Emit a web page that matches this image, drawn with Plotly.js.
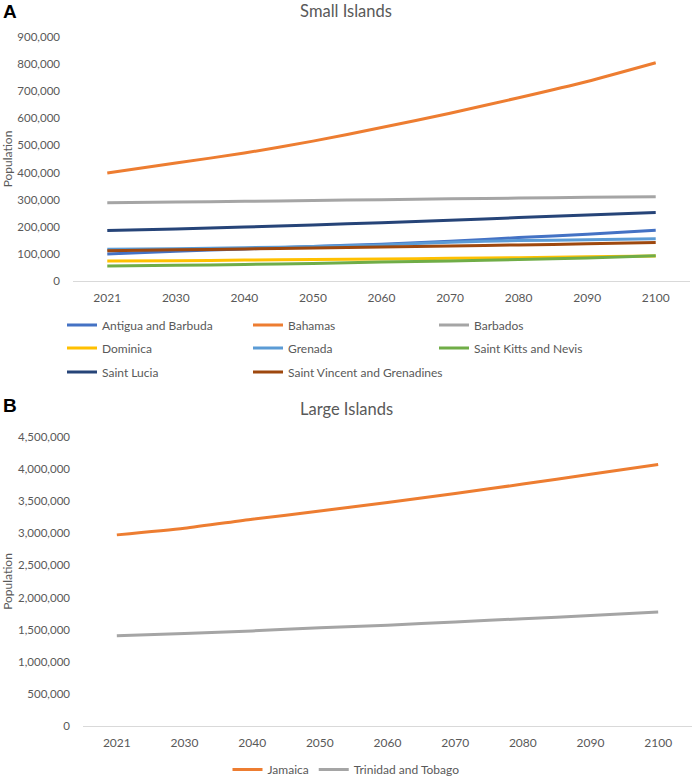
<!DOCTYPE html>
<html>
<head>
<meta charset="utf-8">
<script src="https://cdn.plot.ly/plotly-3.0.1.min.js"></script>
<style>html,body{margin:0;padding:0;background:#fff;}#chart{width:692px;height:778px;}</style>
</head>
<body>
<div id="chart"></div>
<script>
// ---- data ----
var years = ['2021','2030','2040','2050','2060','2070','2080','2090','2100'];

var smallNames = ['Antigua and Barbuda','Bahamas','Barbados','Dominica','Grenada','Saint Kitts and Nevis','Saint Lucia','Saint Vincent and Grenadines'];
var antigua   = [100000,110000,118000,127000,136000,147000,160000,172000,187000];
var bahamas   = [398000,435000,472000,516000,566000,619000,676000,736000,805000];
var barbados  = [289000,291000,294000,297000,300000,303000,306000,309000,311000];
var dominica  = [74000,75000,77000,79000,81000,84000,86000,89000,92000];
var grenada   = [117000,119000,123000,127000,133000,143000,149000,152000,156000];
var stKitts   = [55000,58000,61000,65000,70000,74000,79000,85000,93000];
var stLucia   = [186000,192000,199000,207000,215000,224000,234000,243000,253000];
var stVincent = [112000,115000,118000,122000,125000,129000,133000,137000,142000];

var largeNames = ['Jamaica','Trinidad and Tobago'];
var jamaica  = [2976000,3080000,3220000,3346000,3480000,3620000,3767000,3920000,4073000];
var trinidad = [1405000,1440000,1480000,1530000,1570000,1620000,1670000,1720000,1775000];

var smallTickVals = [0,100000,200000,300000,400000,500000,600000,700000,800000,900000];
var largeTickVals = [0,500000,1000000,1500000,2000000,2500000,3000000,3500000,4000000,4500000];

// ---- styles ----
var smallColors = ['#4472C4','#ED7D31','#A5A5A5','#FFC000','#5B9BD5','#70AD47','#264478','#9E480E'];
var smallLegendId = ['legend','legend','legend','legend2','legend2','legend2','legend3','legend5'];
var largeColors = ['#ED7D31','#A5A5A5'];
var smallSeries = [antigua,bahamas,barbados,dominica,grenada,stKitts,stLucia,stVincent];
var largeSeries = [jamaica,trinidad];

var FONT = 'Lato, "Open Sans", sans-serif';
var GREY = '#595959';
var W = 692, H = 778;
var LEG4_TOP = 755;             // top edge (px) of the bottom legend box
var PH = LEG4_TOP;              // plot-area height left after the bottom legend reserves its margin
function py(y){ return (PH - y) / PH; }

var traces = [];
smallSeries.forEach(function(vals,i){
  traces.push({
    type:'scatter', mode:'lines', x:years, y:vals, name:smallNames[i],
    line:{color:smallColors[i], width:3, shape:'spline', smoothing:0.6},
    xaxis:'x', yaxis:'y', legend:smallLegendId[i], hoverinfo:'skip'
  });
});
largeSeries.forEach(function(vals,i){
  traces.push({
    type:'scatter', mode:'lines', x:years, y:vals, name:largeNames[i],
    line:{color:largeColors[i], width:3, shape:'spline', smoothing:0.6},
    xaxis:'x2', yaxis:'y2', legend:'legend4', hoverinfo:'skip'
  });
});

function legendRow(xPix, yPix, ew){
  var o = {orientation:'h', x:xPix/W, xanchor:'left', y:py(yPix), yanchor:'middle',
    font:{family:FONT,size:12,color:GREY}, bgcolor:'rgba(0,0,0,0)', traceorder:'normal', itemwidth:30};
  if(ew){ o.entrywidth = ew; o.entrywidthmode = 'pixels'; }
  return o;
}

var xCommon = {type:'category', showgrid:false, zeroline:false, showline:true,
  linecolor:'#D9D9D9', linewidth:1, ticks:'', tickfont:{family:FONT,size:12,color:GREY},
  ticklabelstandoff:6, fixedrange:true};
var yCommon = {showgrid:false, zeroline:false, showline:false, ticks:'',
  tickformat:',d', tickfont:{family:FONT,size:11.5,color:GREY}, ticklabelstandoff:12,
  fixedrange:true};

var layout = {
  width:W, height:H, margin:{l:0,r:0,t:0,b:0,pad:0}, paper_bgcolor:'#fff', plot_bgcolor:'#fff',
  showlegend:true,
  title:{text:'Small Islands', font:{family:FONT,size:16.5,color:GREY}, x:0.5, xanchor:'center', xref:'paper', y:(H-11)/H, yanchor:'middle', yref:'container'},
  xaxis:Object.assign({}, xCommon, {domain:[73/W, 690/W], anchor:'y', range:[-0.5,8.5]}),
  yaxis:Object.assign({}, yCommon, {domain:[py(281), py(37)], anchor:'x', range:[0,900000], tickvals:smallTickVals,
     title:{text:'Population', font:{family:FONT,size:12,color:GREY}, standoff:6}}),
  xaxis2:Object.assign({}, xCommon, {domain:[83/W, 692/W], anchor:'y2', range:[-0.5,8.5]}),
  yaxis2:Object.assign({}, yCommon, {domain:[py(726), py(437)], anchor:'x2', range:[0,4500000], tickvals:largeTickVals,
     title:{text:'Population', font:{family:FONT,size:12,color:GREY}, standoff:6}}),
  legend:legendRow(62, 325, 141),
  legend2:legendRow(62, 348, 141),
  legend3:legendRow(62, 372),
  legend5:legendRow(248, 372),
  legend4:{orientation:'h', xref:'paper', yref:'container', x:0.5, xanchor:'center',
    y:(H-LEG4_TOP)/H, yanchor:'top',
    font:{family:FONT,size:12,color:GREY}, bgcolor:'rgba(0,0,0,0)', traceorder:'normal', itemwidth:30},
  annotations:[
    {text:'<b>A</b>', xref:'paper', yref:'paper', x:1/W, y:py(12), xanchor:'left', yanchor:'middle', showarrow:false,
     font:{family:'"Liberation Sans", Arial, sans-serif', size:19, color:'#000'}},
    {text:'<b>B</b>', xref:'paper', yref:'paper', x:1/W, y:py(405), xanchor:'left', yanchor:'middle', showarrow:false,
     font:{family:'"Liberation Sans", Arial, sans-serif', size:19, color:'#000'}},
    {text:'Large Islands', xref:'paper', yref:'paper', x:0.5, y:py(409), xanchor:'center', yanchor:'middle', showarrow:false,
     font:{family:FONT, size:16.5, color:GREY}}
  ]
};

Plotly.newPlot('chart', traces, layout, {displayModeBar:false, staticPlot:true});
</script>
</body>
</html>
